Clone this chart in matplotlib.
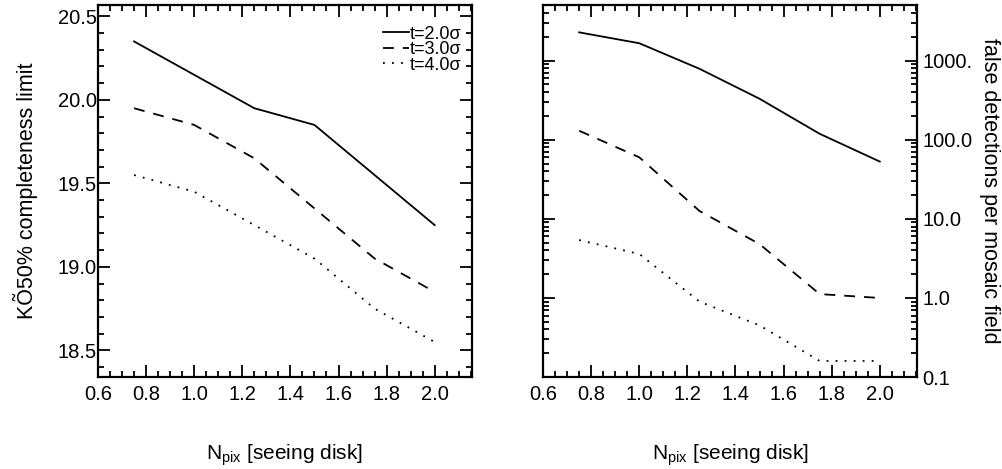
import numpy as np
import matplotlib
matplotlib.use("Agg")
import matplotlib.pyplot as plt
from matplotlib.ticker import MultipleLocator, FixedLocator, FixedFormatter, LogLocator, NullFormatter

plt.rcParams["font.family"] = ["Liberation Sans", "DejaVu Sans"]
plt.rcParams["mathtext.fontset"] = "custom"
plt.rcParams["mathtext.rm"] = "Liberation Sans"

# Detection threshold runs vs. aperture size
npix = [0.75, 1.0, 1.25, 1.5, 1.75, 2.0]
labels = ["t=2.0\u03c3", "t=3.0\u03c3", "t=4.0\u03c3"]
styles = ["-", (0, (6, 5)), (0, (1, 4))]

# 50% completeness limit [mag]
compl_t2 = [20.35, 20.15, 19.95, 19.85, 19.55, 19.25]
compl_t3 = [19.95, 19.85, 19.65, 19.35, 19.05, 18.85]
compl_t4 = [19.55, 19.45, 19.25, 19.05, 18.75, 18.55]

# false detections per mosaic field
false_t2 = [2280, 1660, 790, 330, 119, 53]
false_t3 = [130, 60, 12.6, 4.8, 1.12, 1.0]
false_t4 = [5.4, 3.6, 0.9, 0.45, 0.16, 0.16]

right_ticks = [0.1, 1.0, 10.0, 100.0, 1000.0]
right_ticklabels = ["0.1", "1.0", "10.0", "100.0", "1000."]

fig = plt.figure(figsize=(10.02, 4.69), dpi=100)
ax1 = fig.add_axes([0.0978, 0.196, 0.373, 0.794])
ax2 = fig.add_axes([0.542, 0.196, 0.373, 0.794])

for ax in (ax1, ax2):
    ax.set_xlim(0.6, 2.154)
    ax.xaxis.set_major_locator(MultipleLocator(0.2))
    ax.xaxis.set_minor_locator(MultipleLocator(0.05))
    ax.xaxis.set_major_formatter(plt.FormatStrFormatter("%.1f"))
    ax.tick_params(which="both", direction="in", top=True, bottom=True,
                   left=True, right=True, width=1.3, labelsize=14.5)
    ax.tick_params(which="major", length=8.5)
    ax.tick_params(which="minor", length=4.5)
    ax.tick_params(axis="x", pad=6)
    for sp in ax.spines.values():
        sp.set_linewidth(1.6)
    ax.set_xlabel(r"N$_{\mathrm{pix}}$ [seeing disk]", fontsize=15, va="top")
    ax.xaxis.set_label_coords(0.5, -0.175)

# left panel: completeness
for y, ls, lab in zip([compl_t2, compl_t3, compl_t4], styles, labels):
    ax1.plot(npix, y, color="black", linestyle=ls, linewidth=1.3, label=lab)
ax1.set_ylim(18.34, 20.57)
ax1.yaxis.set_major_locator(MultipleLocator(0.5))
ax1.yaxis.set_minor_locator(MultipleLocator(0.1))
ax1.yaxis.set_major_formatter(plt.FormatStrFormatter("%.1f"))
ax1.tick_params(axis="y", pad=1)
ax1.set_ylabel("K\u00d550% completeness limit", fontsize=15.5,
               va="center", ha="center")
ax1.yaxis.set_label_coords(-0.195, 0.5)
ax1.legend(loc="upper right", bbox_to_anchor=(0.972, 0.944), frameon=False,
           fontsize=13, handlelength=1.4, handletextpad=0.05,
           labelspacing=-0.08, borderaxespad=0, borderpad=0)

# right panel: false detections
for y, ls in zip([false_t2, false_t3, false_t4], styles):
    ax2.plot(npix, y, color="black", linestyle=ls, linewidth=1.3)
ax2.set_yscale("log")
ax2.set_ylim(0.1, 5100)
ax2.yaxis.set_major_locator(FixedLocator(right_ticks))
ax2.yaxis.set_major_formatter(FixedFormatter(right_ticklabels))
ax2.yaxis.set_minor_locator(LogLocator(base=10, subs=np.arange(2, 10)))
ax2.yaxis.set_minor_formatter(NullFormatter())
ax2.tick_params(axis="y", labelleft=False, labelright=True, pad=4)
ax2.yaxis.set_label_position("right")
ax2.set_ylabel("false detections per mosaic field", fontsize=15.5,
               rotation=-90, va="center", ha="center")
ax2.yaxis.set_label_coords(1.195, 0.5)

fig.savefig("out.png", dpi=100)
